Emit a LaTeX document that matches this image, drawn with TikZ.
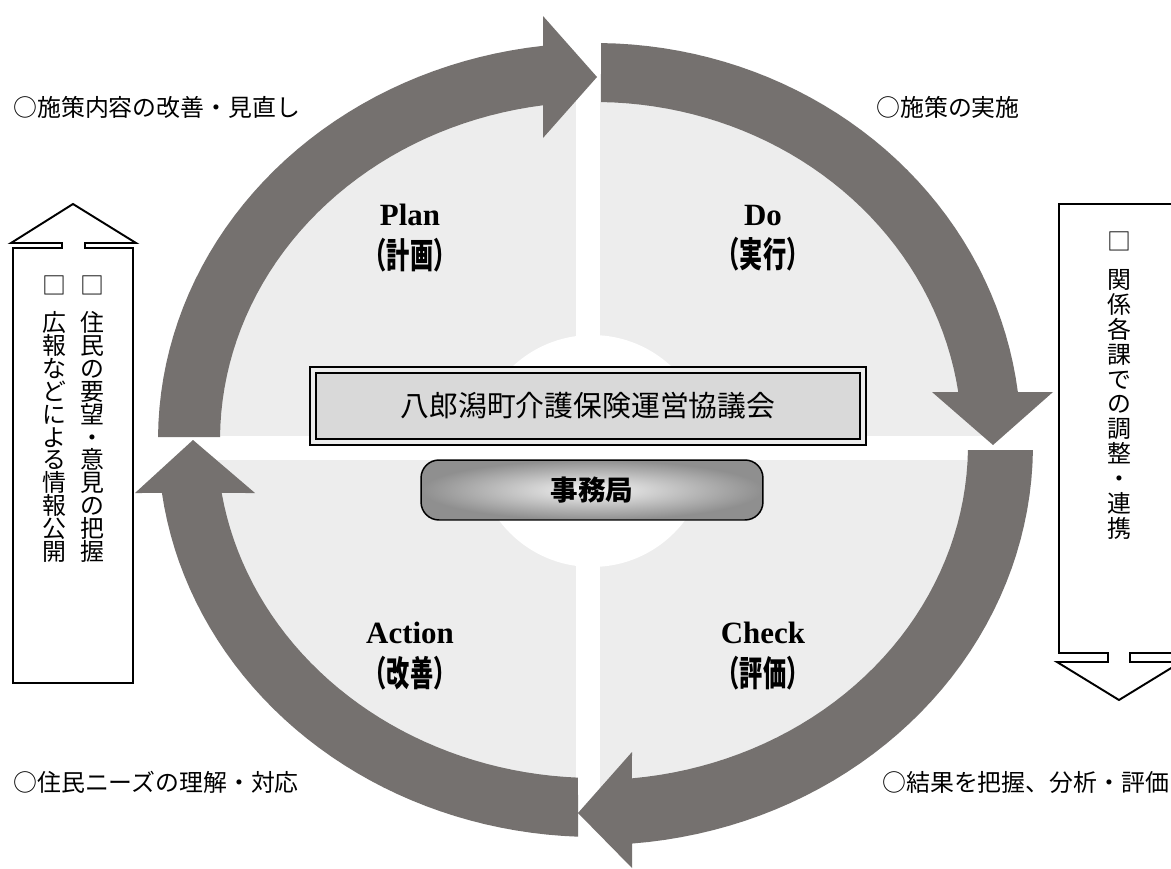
\documentclass[tikz,border=0pt]{standalone}
\usepackage{fontspec}
\usepackage{graphicx}
\setmainfont{Liberation Serif}
\newfontfamily\jp{Noto Sans CJK JP}
\setlength{\lineskiplimit}{-20pt}
\definecolor{bandgray}{RGB}{117,113,111}
\definecolor{discgray}{RGB}{237,237,237}
\definecolor{boxgray}{RGB}{217,217,217}
\definecolor{framegap}{RGB}{236,236,236}
\tikzset{
  band/.style={fill=bandgray},
  pdca/.style={align=center,inner sep=0pt,font=\bfseries\fontsize{17.6}{24}\selectfont},
  sidenote/.style={anchor=west,inner sep=0pt,font=\jp\fontsize{13.6}{16}\selectfont},
  tate/.style={align=center,anchor=north,inner sep=0pt,font=\jp\fontsize{13.6}{13}\selectfont},
  blockarrow/.style={draw,line width=1.1pt,fill=white},
}
\newcommand{\jpb}[1]{\scalebox{0.66}[1]{\jp\bfseries\fontsize{20}{24}\selectfont #1}}
\begin{document}
\begin{tikzpicture}[x=0.02cm,y=-0.02cm]
    \useasboundingbox (0,0) rectangle (1171,869);
    \clip (0,0) rectangle (1171,869);
    \fill[white] (0,0) rectangle (1171,869);
    % quadrants
    \fill[discgray] (595,442) ellipse [x radius=8.1cm,y radius=7.36cm];
    \fill[white] (576,20) rectangle (600,860);
    \fill[white] (140,436) rectangle (1050,460);
    \fill[white] (592,451) circle [radius=2.32cm];
    % cycle arrows
    \fill[band] plot[domain=180.43:263.17,samples=40] ({595+437*cos(\x)},{440+397*sin(\x)}) -- (543,16) -- (597,77) -- (543,138) -- plot[domain=262.03:180.5,samples=40] ({595+375*cos(\x)},{440+338*sin(\x)}) -- cycle;
    \fill[band] plot[domain=270.81:353.06,samples=40] ({595+426*cos(\x)},{440+397*sin(\x)}) -- (1053,392) -- (993,445) -- (932,392) -- plot[domain=351.84:270.94,samples=40] ({595+367*cos(\x)},{440+338*sin(\x)}) -- cycle;
    \fill[band] plot[domain=0.72:85.15,samples=40] ({595+438*cos(\x)},{445+400*sin(\x)}) -- (632,868) -- (578,813) -- (632,752) -- plot[domain=84.31:0.86,samples=40] ({595+373*cos(\x)},{445+335*sin(\x)}) -- cycle;
    \fill[band] plot[domain=92.23:172.33,samples=40] ({595+437*cos(\x)},{440+397*sin(\x)}) -- (135,493) -- (193,440) -- (255,493) -- plot[domain=170.98:92.58,samples=40] ({595+378*cos(\x)},{440+338*sin(\x)}) -- cycle;
    % centre boxes
    \draw[line width=1.7pt,fill=framegap] (310,367) rectangle (866,445);
    \node[draw,line width=0.85pt,fill=boxgray,minimum width=10.88cm,minimum height=1.32cm,font=\jp\fontsize{16.4}{20}\selectfont] (council) at (588,406) {八郎潟町介護保険運営協議会};
    \node[draw,line width=0.85pt,rounded corners=0.36cm,minimum width=6.84cm,minimum height=1.2cm,inner color=gray!8,outer color=gray!88,font=\jp\bfseries\fontsize{15.7}{18}\selectfont] (office) at (592,490) {事務局};
    % PDCA
    \node[pdca] (plan) at (410,238) {Plan\\\jpb{（計画）}};
    \node[pdca] (do) at (763,238) {Do\\\jpb{（実行）}};
    \node[pdca] (action) at (410,656) {Action\\\jpb{（改善）}};
    \node[pdca] (check) at (763,656) {Check\\\jpb{（評価）}};
    % notes
    \node[sidenote] (revise) at (13,107) {○施策内容の改善・見直し};
    \node[sidenote] (implement) at (876,107) {○施策の実施};
    \node[sidenote] (needs) at (13,782) {○住民ニーズの理解・対応};
    \node[sidenote] (assess) at (882,782) {○結果を把握、分析・評価};
    % side arrows
    \draw[blockarrow] (13,683) -- (13,248) -- (62,248) -- (62,243) -- (11,243) -- (73,204) -- (136,243) -- (85,243) -- (85,248) -- (133,248) -- (133,683) -- cycle;
    \draw[blockarrow] (1059,204) -- (1059,653) -- (1108,653) -- (1108,662) -- (1057,662) -- (1119,700) -- (1181,662) -- (1130,662) -- (1130,653) -- (1179,653) -- (1179,204) -- cycle;
    \node[tate] (hearing) at (92,276) {□\\[8pt]住\\民\\の\\要\\望\\・\\意\\見\\の\\把\\握};
    \node[tate] (publicity) at (54,276) {□\\[8pt]広\\報\\な\\ど\\に\\よ\\る\\情\\報\\公\\開};
    \node[tate,font=\jp\fontsize{13.6}{14.2}\selectfont] (liaison) at (1119,232) {□\\[7pt]関\\係\\各\\課\\で\\の\\調\\整\\・\\連\\携};
\end{tikzpicture}
\end{document}
